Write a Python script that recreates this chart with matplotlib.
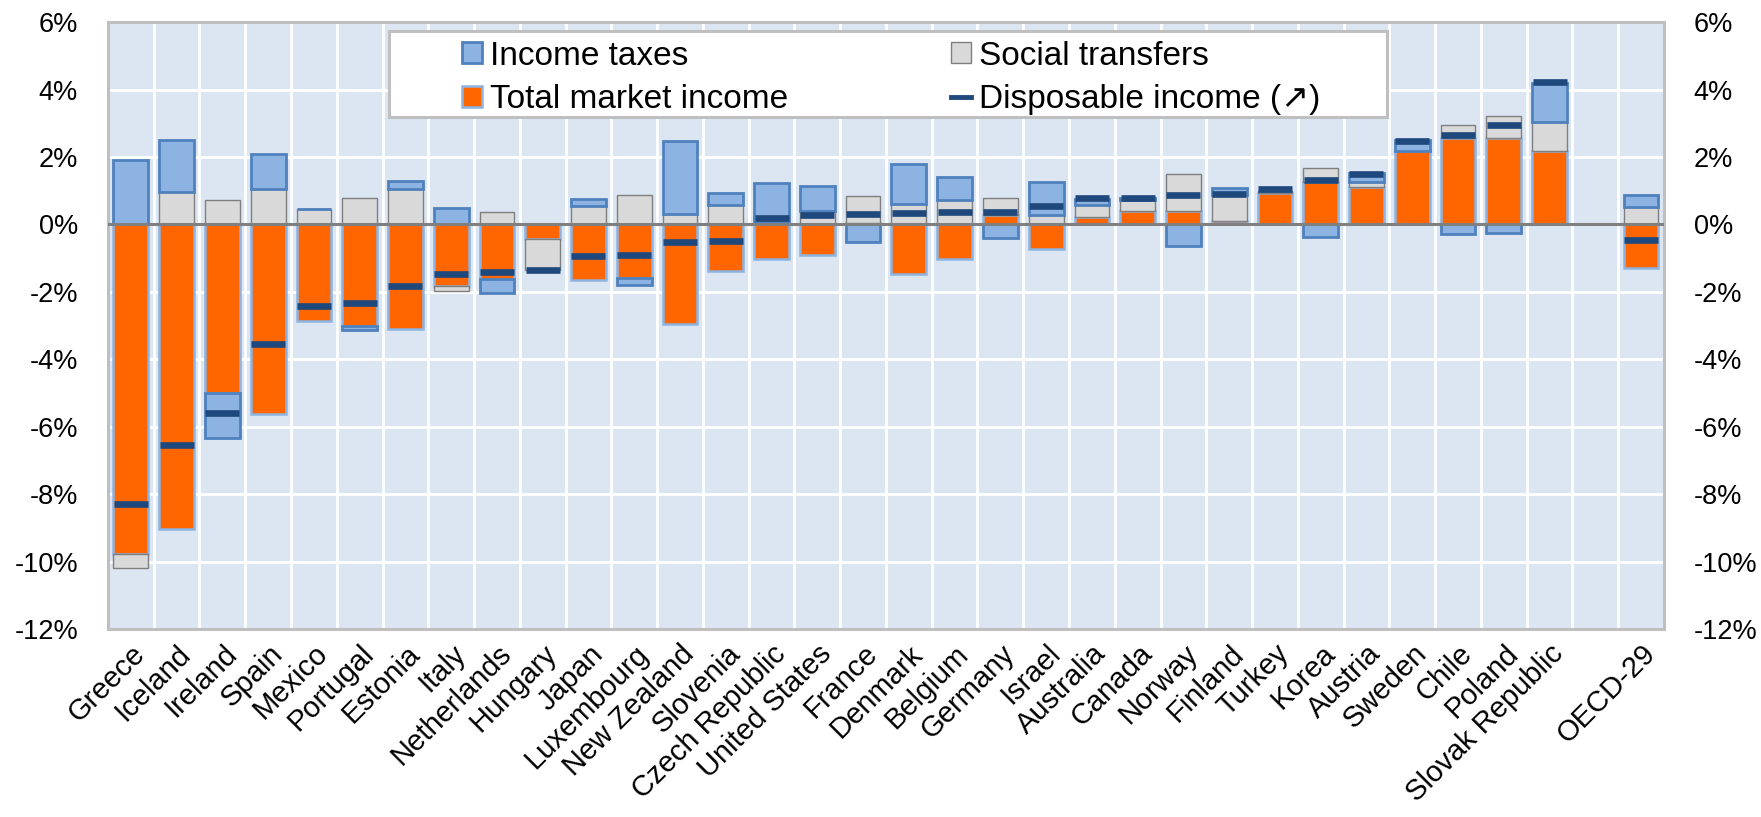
import matplotlib.pyplot as plt
import numpy as np
from matplotlib.patches import Patch, Rectangle
from matplotlib.lines import Line2D

plt.rcParams['font.family'] = ['Liberation Sans', 'DejaVu Sans']

# Values (percent)
countries = ["Greece", "Iceland", "Ireland", "Spain", "Mexico", "Portugal", "Estonia",
             "Italy", "Netherlands", "Hungary", "Japan", "Luxembourg", "New Zealand",
             "Slovenia", "Czech Republic", "United States", "France", "Denmark",
             "Belgium", "Germany", "Israel", "Australia", "Canada", "Norway", "Finland",
             "Turkey", "Korea", "Austria", "Sweden", "Chile", "Poland", "Slovak Republic",
             "OECD-29"]
market = [-9.76, -9.02, -5.00, -5.61, -2.86, -3.02, -3.11, -1.84, -1.63, -0.42, -1.66,
          -1.58, -2.94, -1.38, -1.02, -0.90, 0.03, -1.46, -1.02, 0.27, -0.72, 0.22, 0.39,
          0.39, 0.10, 0.92, 1.25, 1.11, 2.17, 2.56, 2.56, 2.19, -1.28]
social = [-0.44, 0.96, 0.73, 1.06, 0.46, 0.79, 1.06, -0.12, 0.37, -0.92, 0.56, 0.88, 0.32,
          0.59, 0.08, 0.41, 0.81, 0.61, 0.71, 0.51, 0.27, 0.37, 0.32, 1.11, 0.76, 0.08,
          0.43, 0.14, 0.02, 0.39, 0.64, 0.84, 0.51]
taxes = [1.90, 1.55, -1.32, 1.03, 0.0, -0.12, 0.22, 0.49, -0.40, 0.0, 0.20, -0.23, 2.15,
         0.35, 1.14, 0.74, -0.52, 1.19, 0.69, -0.41, 0.98, 0.17, 0.07, -0.65, 0.23, 0.0,
         -0.38, 0.27, 0.30, -0.28, -0.26, 1.16, 0.35]
disposable = [-8.30, -6.53, -5.58, -3.54, -2.41, -2.32, -1.82, -1.46, -1.40, -1.34, -0.93,
              -0.90, -0.51, -0.48, 0.20, 0.27, 0.32, 0.35, 0.37, 0.37, 0.54, 0.78, 0.78,
              0.88, 0.91, 1.04, 1.32, 1.49, 2.47, 2.66, 2.95, 4.22, -0.45]
yticks = [-12, -10, -8, -6, -4, -2, 0, 2, 4, 6]

# colours
c_tax, c_tax_edge = "#8DB3E2", "#4F81BD"
c_mkt = "#FF6600"
c_soc, c_soc_edge = "#D9D9D9", "#7F7F7F"
c_disp = "#1F497D"

# positions: one empty slot before the OECD average
x = np.arange(len(countries), dtype=float)
x[-1] += 1

fig = plt.figure(figsize=(17.61, 8.17), dpi=100)
ax = fig.add_axes([0.0613, 0.230, 0.8836, 0.743])
ax.set_facecolor("#DCE6F2")

width = 0.76
pos = np.zeros(len(x))
neg = np.zeros(len(x))
series = [(market, c_mkt, c_tax, 1.8),
          (social, c_soc, c_soc_edge, 1.0),
          (taxes, c_tax, c_tax_edge, 2.0)]
for vals, fc, ec, lw in series:
    v = np.array(vals)
    bottom = np.where(v >= 0, pos, neg)
    ax.bar(x, v, width, bottom=bottom, color=fc, edgecolor=ec, linewidth=lw, zorder=2)
    pos = pos + np.where(v >= 0, v, 0)
    neg = neg + np.where(v < 0, v, 0)

ax.axhline(0, color="#808080", lw=2.2, zorder=3)
ax.plot(x, disposable, ls="none", marker="_", ms=25, mew=4.8, color=c_disp, zorder=4)

ax.set_xlim(-0.5, x[-1] + 0.5)
ax.set_ylim(-12, 6)
ax.set_yticks(yticks)
ax.set_yticklabels([f"{t}%" for t in yticks])
ax.tick_params(axis="y", left=False, right=False, labelleft=True, labelright=True,
               labelsize=19.5, pad=18)

ax.set_xticks(x)
ax.set_xticklabels(countries, rotation=45, ha="right", va="top", rotation_mode="anchor",
                   fontsize=21)
ax.tick_params(axis="x", bottom=False, pad=4)

# grid: white lines at every 2% and at category boundaries
for t in yticks:
    ax.axhline(t, color="white", lw=2, zorder=1)
for b in np.arange(0.5, x[-1], 1.0):
    ax.axvline(b, color="white", lw=2, zorder=1)

for s in ax.spines.values():
    s.set_color("#BFBFBF")
    s.set_linewidth(2.2)

# legend: white box with grey border, entries centred inside
box = Rectangle((0.1806, 0.8435), 0.6414, 0.1415, transform=ax.transAxes,
                facecolor="white", edgecolor="#BFBFBF", linewidth=2.2, zorder=5)
ax.add_patch(box)
handles = [Patch(facecolor=c_tax, edgecolor=c_tax_edge, linewidth=2),
           Patch(facecolor=c_mkt, edgecolor=c_tax, linewidth=1.8),
           Patch(facecolor=c_soc, edgecolor=c_soc_edge, linewidth=1),
           Line2D([], [], color=c_disp, lw=3.5)]
labels = ["Income taxes", "Total market income", "Social transfers",
          "Disposable income (\u2197)"]
leg = ax.legend(handles, labels, ncol=2, loc="center", bbox_to_anchor=(0.5035, 0.908),
                fontsize=24, frameon=False, handlelength=0.58, handleheight=0.58,
                handletextpad=0.25, columnspacing=4.9, labelspacing=0.38,
                borderpad=0, borderaxespad=0)
leg.set_zorder(6)

fig.savefig("out.png", dpi=100)
